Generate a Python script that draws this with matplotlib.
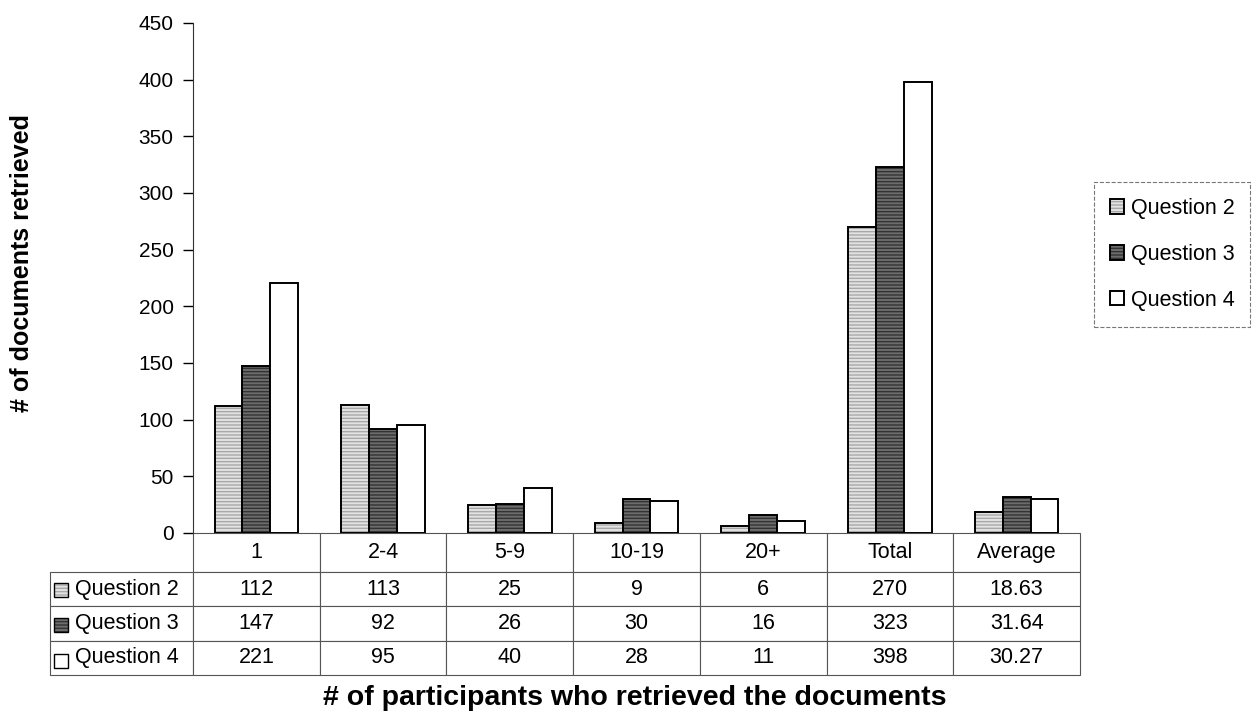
import numpy as np
import matplotlib.pyplot as plt
from matplotlib.patches import Rectangle

plt.rcParams['font.family'] = ['Liberation Sans', 'DejaVu Sans']

# data
categories = ['1', '2-4', '5-9', '10-19', '20+', 'Total', 'Average']
series = ['Question 2', 'Question 3', 'Question 4']
q2 = [112, 113, 25, 9, 6, 270, 18.63]
q3 = [147, 92, 26, 30, 16, 323, 31.64]
q4 = [221, 95, 40, 28, 11, 398, 30.27]
yticks = [0, 50, 100, 150, 200, 250, 300, 350, 400, 450]

values = [q2, q3, q4]
faces = ['#e2e2e2', '#6c6c6c', 'white']
hatch_cols = ['#a8a8a8', '#333333', 'white']
hatches = ['-----', '-----', None]

W, H = 1259, 713
fig = plt.figure(figsize=(W / 100, H / 100), dpi=100)
ax = fig.add_axes([193 / W, 1 - 533 / H, 887 / W, 510 / H])

x = np.arange(len(categories))
bw = 0.22
handles = []
for i in range(3):
    pos = x + (i - 1) * bw
    b1 = ax.bar(pos, values[i], bw, color=faces[i], hatch=hatches[i],
                edgecolor=hatch_cols[i], linewidth=0)
    b2 = ax.bar(pos, values[i], bw, facecolor='none', edgecolor='black', linewidth=1.4)
    handles.append((b1[0], b2[0]))

ax.set_xlim(-0.5, len(categories) - 0.5)
ax.set_ylim(0, 450)
ax.set_yticks(yticks)
ax.tick_params(axis='y', labelsize=15, length=7, width=1, direction='out', pad=7)
ax.set_xticks([])
for s in ['top', 'right', 'bottom']:
    ax.spines[s].set_visible(False)
ax.spines['left'].set_color('#333333')

# data table under the axis
lab_w = 143 / 887
rows = [[''] + categories]
for i in range(3):
    rows.append([series[i]] + ['%g' % v for v in values[i]])
tab = ax.table(cellText=rows, colWidths=[lab_w] + [1 / 7] * 7,
               bbox=[-lab_w, -142 / 510, 1 + lab_w, 142 / 510], cellLoc='center')
tab.auto_set_font_size(False)
for (r, c), cell in tab.get_celld().items():
    cell.set_edgecolor('#555555')
    cell.set_linewidth(0.8)
    cell.get_text().set_fontsize(15.5)
    cell.set_height(39 if r == 0 else 34.3)
    if c == 0:
        cell.get_text().set_ha('left')
        cell.PAD = 0.175
    if r == 0 and c == 0:
        cell.visible_edges = ''

# legend keys inside the table
row_y = [590, 625, 661]
for i in range(3):
    for fc, ec, hh, lw in [(faces[i], hatch_cols[i], hatches[i], 0),
                           ('none', 'black', None, 1.0)]:
        fig.patches.append(Rectangle((54 / W, 1 - (row_y[i] + 7) / H), 14 / W, 14 / H,
                                     transform=fig.transFigure, facecolor=fc,
                                     edgecolor=ec, hatch=hh, linewidth=lw))

leg = fig.legend(handles, series, loc='upper left', bbox_to_anchor=(1094 / W, 1 - 182 / H),
                 fontsize=15.5, frameon=True, fancybox=False, labelspacing=1.15,
                 handlelength=0.65, handleheight=0.65, handletextpad=0.3,
                 borderpad=0.75, borderaxespad=0)
leg.get_frame().set_edgecolor('#555555')
leg.get_frame().set_linestyle('--')
leg.get_frame().set_linewidth(0.8)

fig.text(22 / W, 1 - 263 / H, '# of documents retrieved', rotation=90,
         ha='center', va='center', fontsize=18, fontweight='bold')
fig.text(635 / W, 1 - 698 / H, '# of participants who retrieved the documents',
         ha='center', va='center', fontsize=20.5, fontweight='bold')

plt.savefig('out.png', dpi=100)
